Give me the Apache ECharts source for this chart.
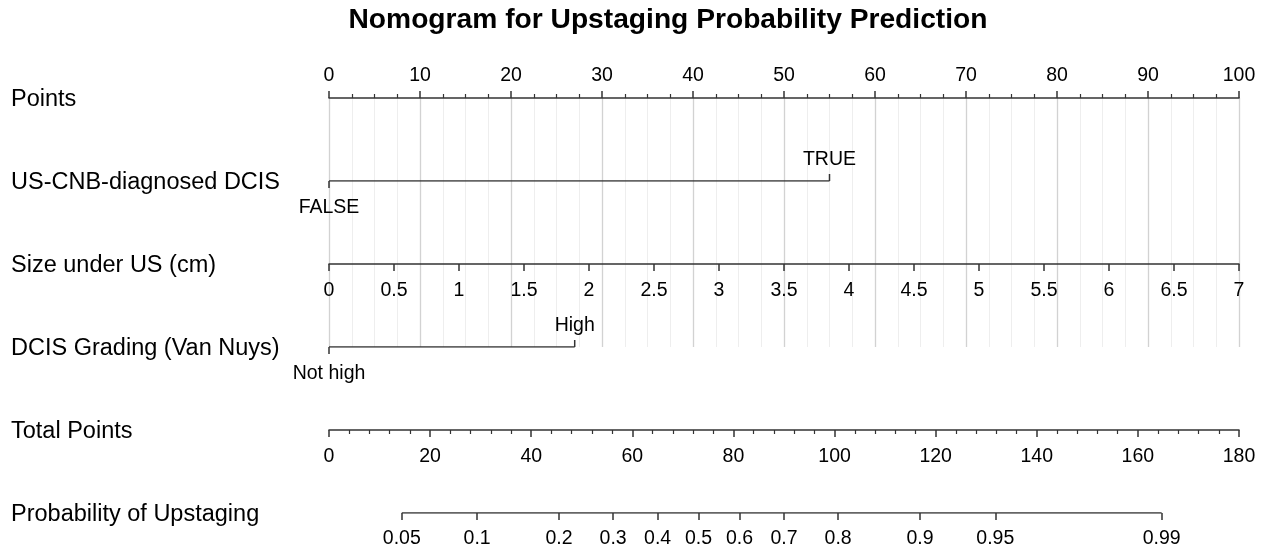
<!DOCTYPE html>
<html>
<head>
<meta charset="utf-8">
<script src="https://cdn.jsdelivr.net/npm/echarts@6/dist/echarts.min.js"></script>
<style>
  html, body { margin: 0; padding: 0; background: #fff; }
  #chart { width: 1268px; height: 549px; }
</style>
</head>
<body>
<div id="chart"></div>
<script>
// nomogram values
const rowLabels = [
  "Points",
  "US-CNB-diagnosed DCIS",
  "Size under US (cm)",
  "DCIS Grading (Van Nuys)",
  "Total Points",
  "Probability of Upstaging",
];
const pointsRange = [0, 100];
const cnbLevels = ["FALSE", "TRUE"];
const cnbPoints = [0, 55];
const sizeRange = [0, 7];
const gradeLevels = ["Not high", "High"];
const gradePoints = [0, 27];
const totalRange = [0, 180];
const probLabels = ["0.05", "0.1", "0.2", "0.3", "0.4", "0.5", "0.6", "0.7", "0.8", "0.9", "0.95", "0.99"];
const probTotalPoints = [14.4, 29.3, 45.5, 56.2, 65.0, 73.1, 81.2, 90.0, 100.7, 116.9, 131.8, 164.7];

// layout
const FONT = '"Liberation Sans", Arial, sans-serif';
const LEFT = 329;
const WIDTH = 910;
const rowY = [98, 181, 264, 347, 430, 513];
const LINE = "#333";

const chart = echarts.init(document.getElementById("chart"), null, { renderer: "canvas" });

const labelStyle = { color: "#000", fontSize: 19.5, fontFamily: FONT };

function rowGrid(y) {
  return { left: LEFT, width: WIDTH, top: y - 10, height: 10, outerBoundsMode: "none", containLabel: false };
}
function hiddenY(i) {
  return { type: "value", gridIndex: i, min: 0, max: 1, show: false };
}

// categorical row: segment plus end ticks with level names
function levelSeries(axis, levels, pts) {
  const seg = {
    type: "line",
    xAxisIndex: axis,
    yAxisIndex: axis,
    data: pts.map((p) => [p, 0]),
    symbol: "none",
    silent: true,
    lineStyle: { color: LINE, width: 1.5 },
  };
  const ticks = {
    type: "scatter",
    xAxisIndex: axis,
    yAxisIndex: axis,
    silent: true,
    symbol: "rect",
    symbolSize: [1.5, 7],
    itemStyle: { color: LINE, opacity: 1 },
    data: levels.map((name, i) => {
      const down = i === 0;
      return {
        name,
        value: [pts[i], 0],
        symbolOffset: [0, down ? 3.5 : -3.5],
        label: { offset: [0, down ? 23 : -18] },
      };
    }),
    label: {
      show: true,
      position: "inside",
      formatter: "{b}",
      textBorderWidth: 0,
      textShadowBlur: 0,
      opacity: 1,
      ...labelStyle,
    },
  };
  return [seg, ticks];
}

const probMap = new Map(probTotalPoints.map((p, i) => [p, probLabels[i]]));

const axisLine = { show: true, onZero: false, lineStyle: { color: LINE, width: 1.5 } };
const majorTick = { show: true, inside: false, length: 7, lineStyle: { color: LINE, width: 1.5 } };

chart.setOption({
  animation: false,
  backgroundColor: "#fff",
  title: {
    text: "Nomogram for Upstaging Probability Prediction",
    left: 668,
    top: 6,
    padding: 0,
    textAlign: "center",
    textStyle: { fontSize: 28.2, fontWeight: "bold", color: "#000", fontFamily: FONT },
  },
  graphic: rowLabels.map((t, i) => ({
    type: "text",
    x: 11,
    y: rowY[i] + 1.5,
    silent: true,
    style: { text: t, fontSize: 23.5, fontFamily: FONT, fill: "#000", verticalAlign: "middle" },
  })),
  grid: [
    { left: LEFT, width: WIDTH, top: rowY[0], height: rowY[3] - rowY[0], outerBoundsMode: "none", containLabel: false },
    rowGrid(rowY[1]),
    rowGrid(rowY[2]),
    rowGrid(rowY[3]),
    rowGrid(rowY[4]),
    rowGrid(rowY[5]),
  ],
  xAxis: [
    {
      type: "value",
      gridIndex: 0,
      position: "top",
      min: pointsRange[0],
      max: pointsRange[1],
      interval: 10,
      axisLine,
      axisTick: majorTick,
      minorTick: { show: true, splitNumber: 4, length: 4, lineStyle: { color: LINE, width: 1.2 } },
      axisLabel: { margin: 12, ...labelStyle },
      splitLine: { show: true, lineStyle: { color: "#d2d2d2", width: 1.3 } },
      minorSplitLine: { show: true, lineStyle: { color: "#eeeeee", width: 1 } },
    },
    { type: "value", gridIndex: 1, min: pointsRange[0], max: pointsRange[1], show: false },
    {
      type: "value",
      gridIndex: 2,
      position: "bottom",
      min: sizeRange[0],
      max: sizeRange[1],
      interval: 0.5,
      axisLine,
      axisTick: majorTick,
      axisLabel: { margin: 17, ...labelStyle },
      splitLine: { show: false },
    },
    { type: "value", gridIndex: 3, min: pointsRange[0], max: pointsRange[1], show: false },
    {
      type: "value",
      gridIndex: 4,
      position: "bottom",
      min: totalRange[0],
      max: totalRange[1],
      interval: 20,
      axisLine,
      axisTick: majorTick,
      minorTick: { show: true, splitNumber: 5, length: 4, lineStyle: { color: LINE, width: 1.2 } },
      axisLabel: { margin: 17, ...labelStyle },
      splitLine: { show: false },
    },
    {
      type: "value",
      gridIndex: 5,
      position: "bottom",
      min: totalRange[0],
      max: totalRange[1],
      axisLine: { show: false, onZero: false },
      axisTick: { ...majorTick, customValues: probTotalPoints },
      axisLabel: {
        margin: 16,
        customValues: probTotalPoints,
        formatter: (v) => probMap.get(v) ?? "",
        ...labelStyle,
      },
      splitLine: { show: false },
    },
  ],
  yAxis: [0, 1, 2, 3, 4, 5].map(hiddenY),
  series: [
    ...levelSeries(1, cnbLevels, cnbPoints),
    ...levelSeries(3, gradeLevels, gradePoints),
    {
      type: "line",
      xAxisIndex: 5,
      yAxisIndex: 5,
      data: [
        [probTotalPoints[0], 0],
        [probTotalPoints[probTotalPoints.length - 1], 0],
      ],
      symbol: "none",
      silent: true,
      lineStyle: { color: LINE, width: 1.5 },
    },
  ],
});
</script>
</body>
</html>
